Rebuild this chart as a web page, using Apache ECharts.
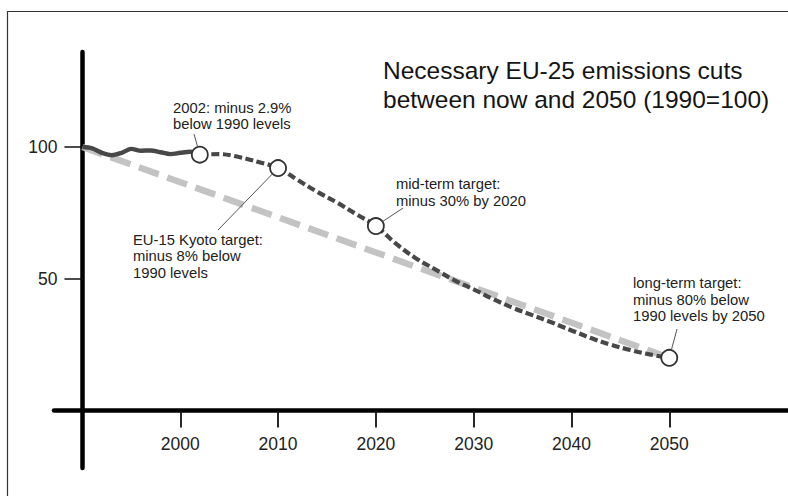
<!DOCTYPE html>
<html>
<head>
<meta charset="utf-8">
<script src="https://cdn.jsdelivr.net/npm/echarts@6/dist/echarts.min.js"></script>
<style>
  html, body { margin: 0; padding: 0; background: #fff; }
  #chart { width: 788px; height: 496px; }
</style>
</head>
<body>
<div id="chart"></div>
<script>
const BASE_YEAR = 1990;

// measured emissions, 1990 = 100
const histYears = [1990, 1991, 1992, 1993, 1994, 1995, 1996, 1997, 1998, 1999, 2000, 2001, 2002];
const histValues = [100, 99.5, 97.8, 96.9, 97.8, 99.3, 98.6, 98.7, 98.0, 97.3, 97.8, 98.2, 97.1];

// necessary reduction path
const projYears = [2002, 2004, 2006, 2008, 2010, 2012, 2014, 2016, 2018, 2020, 2022, 2024, 2026, 2028, 2030, 2032, 2034, 2036, 2038, 2040, 2042, 2044, 2046, 2048, 2050];
const projValues = [97.1, 97.3, 96.2, 94.3, 92, 87.5, 83, 79, 74.5, 70, 63.5, 58, 53.7, 49.5, 46, 42.3, 39, 36.2, 33.4, 30.4, 27.5, 25, 23, 21.3, 20];

// straight trend line
const trendYears = [1990, 2050];
const trendValues = [100, 20];

// marked targets
const targetYears = [2002, 2010, 2020, 2050];
const targetValues = [97.1, 92, 70, 20];

const xTicks = [2000, 2010, 2020, 2030, 2040, 2050];
const yTicks = [50, 100];

const titleText = 'Necessary EU-25 emissions cuts\nbetween now and 2050 (1990=100)';
const noteTexts = [
  '2002: minus 2.9%\nbelow 1990 levels',
  'EU-15 Kyoto target:\nminus 8% below\n1990 levels',
  'mid-term target:\nminus 30% by 2020',
  'long-term target:\nminus 80% below\n1990 levels by 2050'
];

const FONT = '"Liberation Sans", Arial, Helvetica, sans-serif';
const pts = (xs, ys) => xs.map((x, i) => [x - BASE_YEAR, ys[i]]);
const off = a => a.map(v => v - BASE_YEAR);

const chart = echarts.init(document.getElementById('chart'), null, { renderer: 'svg' });

chart.setOption({
  animation: false,
  backgroundColor: '#fff',
  title: {
    text: titleText,
    left: 383, top: 56, padding: 0,
    textStyle: { fontFamily: FONT, fontSize: 24.5, fontWeight: 'normal', lineHeight: 29, color: '#151515' }
  },
  grid: { left: 54, right: 0, top: 52, bottom: 28, containLabel: false, outerBoundsMode: 'none' },
  xAxis: {
    type: 'value',
    min: 1987.09 - BASE_YEAR,
    max: 2062.14 - BASE_YEAR,
    axisLine: { onZero: true, lineStyle: { color: '#000', width: 4.5 } },
    axisTick: { show: true, length: 17, customValues: off(xTicks), lineStyle: { color: '#111', width: 1.8 } },
    // labels are laid out from the grid edge, pull them up under the zero line
    axisLabel: { customValues: off(xTicks), formatter: v => String(Math.round(v + BASE_YEAR)), margin: -33, fontSize: 17.5, fontFamily: FONT, color: '#222' },
    splitLine: { show: false }
  },
  yAxis: {
    type: 'value',
    min: -21.8,
    max: 136.05,
    axisLine: { show: true, onZero: true, lineStyle: { color: '#000', width: 4.5 } },
    axisTick: { show: true, length: 18, customValues: yTicks, lineStyle: { color: '#111', width: 1.5 } },
    axisLabel: { customValues: yTicks, margin: -3.5, fontSize: 17.5, fontFamily: FONT, color: '#222' },
    splitLine: { show: false }
  },
  series: [
    {
      type: 'line', name: 'trend', data: pts(trendYears, trendValues), showSymbol: false, silent: true, z: 2,
      lineStyle: { color: '#c3c3c3', width: 6.5, type: [21, 9] }
    },
    {
      type: 'line', name: 'path', data: pts(projYears, projValues), showSymbol: false, smooth: 0.4, silent: true, z: 3,
      lineStyle: { color: '#484848', width: 4.2, type: [8, 3.5] }
    },
    {
      type: 'line', name: 'history', data: pts(histYears, histValues), showSymbol: false, smooth: 0.3, silent: true, z: 4,
      lineStyle: { color: '#484848', width: 4.4 }
    },
    {
      type: 'scatter', name: 'targets', data: pts(targetYears, targetValues), symbol: 'circle', symbolSize: 16, z: 6,
      itemStyle: { color: '#fff', borderColor: '#333', borderWidth: 1.8, opacity: 1 }
    }
  ]
});

// annotation text boxes (left, top) and the end of each leader line near the text
const noteBoxes = [[173, 99.5], [133, 231.7], [396, 175.8], [633, 275]];
const leaderEnds = [[194, 134], [218, 230], [403, 208], [677, 329]];
const R = 8;

const graphics = [
  { type: 'rect', shape: { x: 7.5, y: 11.5, width: 800, height: 500 }, style: { fill: 'none', stroke: '#333', lineWidth: 1.2 }, silent: true, z: 0 }
];
targetYears.forEach((yr, i) => {
  const c = chart.convertToPixel({ gridIndex: 0 }, [yr - BASE_YEAR, targetValues[i]]);
  const e = leaderEnds[i];
  const dx = e[0] - c[0], dy = e[1] - c[1];
  const d = Math.hypot(dx, dy) || 1;
  graphics.push({
    type: 'line', silent: true, z: 10,
    shape: { x1: c[0] + dx / d * R, y1: c[1] + dy / d * R, x2: e[0], y2: e[1] },
    style: { stroke: '#555', lineWidth: 1 }
  });
  graphics.push({
    type: 'text', silent: true, z: 10,
    x: noteBoxes[i][0], y: noteBoxes[i][1],
    style: { text: noteTexts[i], font: '14.8px ' + FONT, fill: '#222', lineHeight: 16.5, align: 'left', verticalAlign: 'top' }
  });
});
chart.setOption({ graphic: graphics });
</script>
</body>
</html>
